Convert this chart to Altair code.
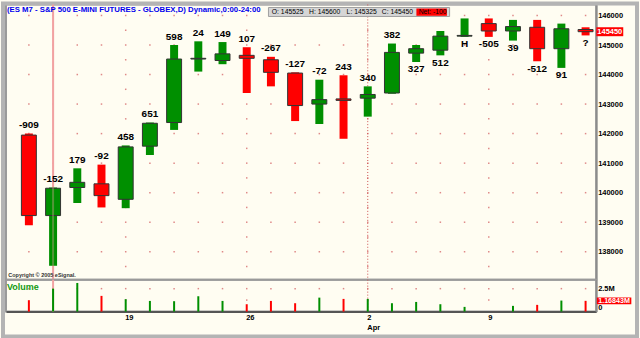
import altair as alt
import pandas as pd

# ---------------- data ----------------
dates = ["2007-03-13", "2007-03-14", "2007-03-15", "2007-03-16", "2007-03-19",
         "2007-03-20", "2007-03-21", "2007-03-22", "2007-03-23", "2007-03-26",
         "2007-03-27", "2007-03-28", "2007-03-29", "2007-03-30", "2007-04-02",
         "2007-04-03", "2007-04-04", "2007-04-05", "2007-04-06", "2007-04-09",
         "2007-04-10", "2007-04-11", "2007-04-12", "2007-04-13"]
opens = [141950, 139225, 140175, 140300, 139775, 141575, 142375, 144525, 144475, 144650,
         144500, 144050, 143000, 143175, 143200, 143375, 144725, 144825, 145300, 145725,
         145475, 145600, 144875, 145525]
highs = [142000, 140175, 140825, 140950, 141600, 142375, 145000, 145125, 145100, 144925,
         144600, 144075, 143825, 143975, 143600, 145050, 145000, 145475, 145900, 145900,
         145850, 145850, 145725, 145600]
lows = [138900, 137525, 139650, 139500, 139475, 141275, 142125, 144100, 144350, 143375,
        143600, 142425, 142325, 141825, 142575, 143350, 144425, 144650, 145275, 145275,
        145150, 144450, 144225, 145325]
closes = [139225, 140150, 140350, 139900, 141550, 142350, 144525, 144550, 144700, 144550,
          144075, 142950, 143150, 143125, 143325, 144750, 144875, 145300, 145325, 145475,
          145625, 144875, 145550, 145450]
volumes = [1240000, 2500000, 3120000, 1710000, 1350000, 1160000, 1130000, 1670000,
           1160000, 800000, 1160000, 910000, 1520000, 1380000, 1380000, 910000,
           1050000, 800000, 510000, 0, 620000, 730000, 1200000, 1168430]
net_labels = ["-909", "-152", "179", "-92", "458", "651", "598", "24", "149", "107",
              "-267", "-127", "-72", "243", "340", "382", "327", "512", "H", "-505",
              "39", "-512", "91", "?"]
label_side = ["above"] * 16 + ["below"] * 8

tick_index = [4, 9, 14, 19]
tick_text = ["19", "26", "2", "9"]
month_index = 14
month_text = "Apr"
cursor_index = 1
price_ticks = [138000, 139000, 140000, 141000, 142000, 143000, 144000, 145000, 146000]
volume_ticks = [0, 2500000]
title_text = "(ES M7 - S&P 500 E-MINI FUTURES - GLOBEX,D) Dynamic,0:00-24:00"
net_text = "Net: -100"
copyright_text = "Copyright \u00a9 2005 eSignal."

# ---------------- styling ----------------
FONT = "Liberation Sans"
CREAM = "#fffdf2"
RED = "#ff0000"
GREEN = "#008f00"
VRED = "#ee4444"
VGREEN = "#1c9c1c"
LAVENDER = "#aab2f2"
DOT = "#dc7c7c"

n = len(dates)
df = pd.DataFrame({
    "date": dates, "open": opens, "high": highs, "low": lows, "close": closes,
    "vol": volumes, "lab": net_labels, "side": label_side,
})
df["i"] = list(range(n))
df["dir"] = ["up" if c >= o else "down" for o, c in zip(opens, closes)]
df["vdir"] = ["cursor" if k == cursor_index else d for k, d in enumerate(df["dir"])]
df["body_lo"] = [min(o, c) for o, c in zip(opens, closes)]
df["body_hi"] = [max(o, c) for o, c in zip(opens, closes)]
df["close_txt"] = [str(c) for c in closes]
df["vol_txt"] = [f"{v / 1e6:g}M" for v in volumes]
last = n - 1

half_levels = [p - 500 for p in price_ticks]
grid_df = pd.DataFrame(
    [{"i": k, "p": p} for k in range(n) for p in price_ticks]
    + [{"i": k, "p": p} for k in tick_index for p in half_levels]
)
vgrid_df = pd.DataFrame(
    [{"i": k, "v": volume_ticks[1]} for k in range(n)]
    + [{"i": k, "v": volume_ticks[1] / 2} for k in tick_index]
)
one = pd.DataFrame({"k": [0]})

xscale = alt.Scale(domain=[-0.74, 23.23], nice=False, zero=False)
X_none = alt.X("i:Q", scale=xscale, axis=None)

label_parts = []
for idx, txt in zip(tick_index, tick_text):
    lab = f"['{txt}','{month_text}']" if idx == month_index else f"'{txt}'"
    label_parts.append(f"datum.value == {idx} ? {lab} : ")
x_label_expr = "".join(label_parts) + "''"
x_axis = alt.Axis(values=tick_index, labelExpr=x_label_expr, labelAlign="left",
                  labelPadding=2, ticks=False, grid=False, title=None,
                  domainColor="#555555", domainWidth=2, labelFontSize=7.5,
                  labelLineHeight=10, labelFlush=False, labelOverlap=False,
                  labelBaseline="top", labelOffset=-1)
X_vol = alt.X("i:Q", scale=xscale, axis=x_axis)

pscale = alt.Scale(domain=[137055, 146371], nice=False, zero=False)
p_axis = alt.Axis(orient="right", values=price_ticks, format="d", title=None,
                  ticks=False, grid=False, labelPadding=1.5, labelFontSize=7.5,
                  labelFlush=False)


def py(field):
    return alt.Y(f"{field}:Q", scale=pscale, axis=p_axis)


vscale = alt.Scale(domain=[0, 3480000], nice=False, zero=True)
v_axis = alt.Axis(orient="right", values=volume_ticks,
                  labelExpr="datum.value == 0 ? '0' : (datum.value / 1000000) + 'M'",
                  title=None, ticks=False, grid=False, labelPadding=1.5,
                  labelFontSize=7.5, labelFlush=True, labelOverlap=False)


def vy(field):
    return alt.Y(f"{field}:Q", scale=vscale, axis=v_axis)


color_dir = alt.Color("dir:N", scale=alt.Scale(domain=["up", "down"], range=[GREEN, RED]),
                      legend=None)

# ---------------- price panel ----------------
border = alt.Chart(one).mark_rect(filled=False, stroke="#b4b4b4", strokeWidth=4).encode(
    x=alt.value(-3), x2=alt.value(633), y=alt.value(-1), y2=alt.value(333))

grid = alt.Chart(grid_df).mark_square(size=2.25, color=DOT, opacity=0.9).encode(
    x=X_none, y=py("p"))

month_line = alt.Chart(df).transform_filter(alt.datum.i == month_index).mark_rule(
    color="#cc5050", strokeDash=[1, 2], strokeWidth=1).encode(x=X_none)
cursor_line = alt.Chart(df).transform_filter(alt.datum.i == cursor_index).mark_rule(
    color="#f2a2a2", strokeWidth=2).encode(x=X_none)
cursor_over = alt.Chart(df).transform_filter(alt.datum.i == cursor_index).mark_rule(
    color="#f2a2a2", strokeWidth=2, opacity=0.35).encode(x=X_none)

wick = alt.Chart(df).mark_bar(size=8).encode(
    x=X_none, y=py("low"), y2="high", color=color_dir)
body = alt.Chart(df).mark_bar(size=15, stroke="#333333", strokeWidth=1).encode(
    x=X_none, y=py("body_lo"), y2="body_hi", color=color_dir)

lab_above = alt.Chart(df).transform_filter(alt.datum.side == "above").mark_text(
    baseline="alphabetic", dy=-5.5, fontSize=10, fontWeight="bold", font=FONT,
    color="#000000").encode(x=X_none, y=py("high"), text="lab:N")
lab_below = alt.Chart(df).transform_filter(alt.datum.side == "below").mark_text(
    baseline="alphabetic", dy=10.5, fontSize=10, fontWeight="bold", font=FONT,
    color="#000000").encode(x=X_none, y=py("low"), text="lab:N")

last_box = alt.Chart(df).transform_filter(alt.datum.i == last).mark_point(
    shape="M-1,-0.333H1V0.333H-1Z", size=729, filled=True, color=RED, opacity=1,
    strokeWidth=0).encode(x=alt.value(605.7), y=py("close"))
last_txt = alt.Chart(df).transform_filter(alt.datum.i == last).mark_text(
    color="#ffffff", fontWeight="bold", fontSize=7.5, font=FONT, align="center",
    baseline="middle").encode(x=alt.value(605.7), y=py("close"), text="close_txt:N")

title = alt.Chart(one).mark_text(
    text=title_text, align="left", baseline="middle", font=FONT, fontSize=7.8,
    fontWeight="bold", color="#0000ee").encode(x=alt.value(1), y=alt.value(5.8))

ohlc_box = alt.Chart(one).mark_rect(fill="#d6d6d6", stroke="#a0a0a0", strokeWidth=1).encode(
    x=alt.value(263.3), x2=alt.value(445), y=alt.value(3), y2=alt.value(12))
net_box = alt.Chart(one).mark_rect(fill=RED).encode(
    x=alt.value(411.7), x2=alt.value(442.3), y=alt.value(4), y2=alt.value(11.3))
ohlc_df = pd.DataFrame({
    "t": [f"O: {opens[-1]}", f"H: {highs[-1]}", f"L: {lows[-1]}", f"C: {closes[-1]}", net_text],
    "px": [266.7, 304.0, 341.7, 377.0, 414.0],
})
ohlc_txt = alt.Chart(ohlc_df).mark_text(
    align="left", baseline="middle", font=FONT, fontSize=6.8, color="#000000").encode(
    x=alt.X("px:Q", scale=None), y=alt.value(7.7), text="t:N")

copyright_mark = alt.Chart(one).mark_text(
    text=copyright_text, align="left", baseline="middle", font=FONT, fontSize=5.5,
    fontWeight="bold", color="#333333").encode(x=alt.value(2.3), y=alt.value(271))

price = alt.layer(
    border, grid, month_line, cursor_line, wick, body, cursor_over,
    lab_above, lab_below, last_box, last_txt, title, ohlc_box, net_box, ohlc_txt,
    copyright_mark,
).properties(width=592, height=276)

# ---------------- volume panel ----------------
vgrid = alt.Chart(vgrid_df).mark_square(size=2.25, color=DOT, opacity=0.9).encode(
    x=X_vol, y=vy("v"))
v_month = alt.Chart(df).transform_filter(alt.datum.i == month_index).mark_rule(
    color="#cc5050", strokeDash=[1, 2], strokeWidth=1).encode(x=X_vol)
v_cursor = alt.Chart(df).transform_filter(alt.datum.i == cursor_index).mark_rule(
    color="#f2a2a2", strokeWidth=2).encode(x=X_vol)
vbars = alt.Chart(df).mark_bar(size=2).encode(
    x=X_vol, y=vy("vol"),
    color=alt.Color("vdir:N", scale=alt.Scale(domain=["up", "down", "cursor"],
                                               range=[VGREEN, VRED, LAVENDER]), legend=None))
v_box = alt.Chart(df).transform_filter(alt.datum.i == last).mark_point(
    shape="M-1,-0.2H1V0.2H-1Z", size=1197, filled=True, color=RED, opacity=1,
    strokeWidth=0).encode(x=alt.value(610), y=vy("vol"))
v_txt = alt.Chart(df).transform_filter(alt.datum.i == last).mark_text(
    color="#ffffff", fontWeight="bold", fontSize=7.2, font=FONT, align="center",
    baseline="middle").encode(x=alt.value(610), y=vy("vol"), text="vol_txt:N")
vol_title = alt.Chart(one).mark_text(
    text="Volume", align="left", baseline="middle", font=FONT, fontSize=9,
    fontWeight="bold", color="#139a13").encode(x=alt.value(1), y=alt.value(7.3))

volume = alt.layer(vgrid, v_month, v_cursor, vbars, v_box, v_txt, vol_title).properties(
    width=592, height=32)

chart = alt.vconcat(price, volume, spacing=0, bounds="flush").properties(
    padding=0, background=CREAM
).configure_view(
    stroke="#9a9a9a", strokeWidth=2
).configure_axis(
    labelFont=FONT, labelFontWeight="bold", labelColor="#000000",
    domainColor="#8c8c8c", domainWidth=2
)

chart.save("out.html", embed_options={"renderer": "svg", "actions": False})
